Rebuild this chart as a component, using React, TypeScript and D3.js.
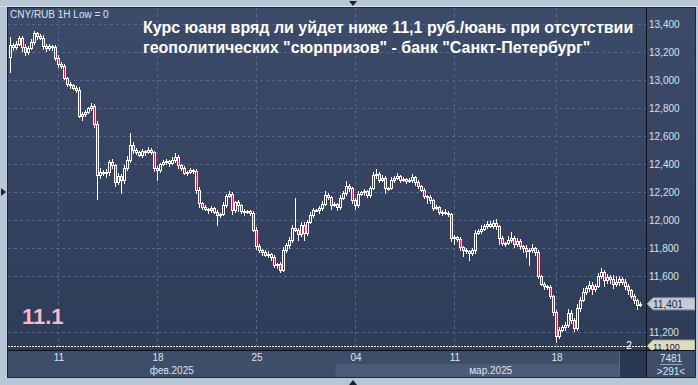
import React from 'react';
import * as d3 from 'd3';

const firstOpen = 13164;
const closes = [
  13250, 13235, 13257, 13300, 13235, 13200, 13229, 13270, 13336, 13315,
  13300, 13243, 13229, 13243, 13235, 13157, 13114, 13100, 13014, 12971,
  12964, 12943, 12929, 12743, 12757, 12771, 12800, 12814, 12686, 12321,
  12343, 12336, 12343, 12414, 12393, 12271, 12314, 12286, 12371, 12429,
  12536, 12500, 12486, 12464, 12493, 12486, 12500, 12486, 12371, 12357,
  12400, 12414, 12421, 12407, 12429, 12450, 12393, 12371, 12336, 12343,
  12357, 12350, 12214, 12121, 12093, 12079, 12071, 12086, 12057, 12036,
  12043, 12107, 12171, 12186, 12071, 12129, 12107, 12064, 12057, 12064,
  12050, 11929, 11814, 11786, 11771, 11750, 11757, 11736, 11679, 11686,
  11643, 11786, 11821, 11857, 11943, 11929, 11900, 11964, 11907, 11986,
  12036, 12071, 12071, 12086, 12114, 12179, 12164, 12107, 12114, 12093,
  12157, 12193, 12243, 12229, 12143, 12107, 12186, 12200, 12207, 12179,
  12229, 12321, 12329, 12286, 12300, 12229, 12229, 12286, 12300, 12314,
  12286, 12293, 12279, 12286, 12307, 12271, 12243, 12214, 12171, 12164,
  12143, 12086, 12093, 12057, 12057, 12050, 12043, 11871, 11879, 11864,
  11807, 11786, 11779, 11764, 11786, 11907, 11921, 11936, 11957, 11971,
  11957, 11979, 11957, 11871, 11836, 11836, 11857, 11871, 11829, 11850,
  11814, 11800, 11779, 11786, 11800, 11771, 11600, 11543, 11529, 11521,
  11457, 11343, 11171, 11214, 11236, 11250, 11336, 11286, 11229, 11371,
  11429, 11486, 11514, 11536, 11507, 11529, 11600, 11629, 11571, 11593,
  11579, 11543, 11557, 11579, 11557, 11529, 11500, 11457, 11429, 11393, 11401,
];
const wickUp = [
  57, 15, 20, 15, 14, 20, 15, 20, 14, 10,
  15, 20, 15, 12, 10, 15, 20, 15, 14, 10,
  15, 10, 14, 20, 15, 12, 10, 20, 15, 20,
  30, 15, 20, 15, 20, 10, 20, 15, 20, 30,
  85, 20, 15, 10, 15, 10, 20, 15, 10, 15,
  10, 15, 15, 10, 20, 30, 15, 10, 15, 10,
  15, 10, 15, 20, 10, 15, 10, 15, 10, 15,
  10, 20, 15, 20, 15, 10, 15, 10, 15, 10,
  10, 15, 20, 15, 10, 15, 25, 10, 15, 10,
  15, 20, 15, 25, 20, 214, 15, 20, 25, 15,
  20, 15, 10, 15, 20, 30, 15, 10, 15, 10,
  20, 15, 35, 15, 10, 15, 20, 10, 15, 10,
  15, 20, 35, 15, 20, 15, 10, 20, 15, 20,
  10, 15, 10, 15, 25, 10, 15, 10, 15, 10,
  15, 10, 15, 10, 15, 20, 15, 10, 15, 10,
  15, 10, 15, 10, 15, 20, 15, 25, 15, 20,
  25, 20, 30, 10, 15, 10, 30, 40, 15, 20,
  15, 10, 20, 15, 25, 10, 15, 10, 15, 10,
  15, 10, 15, 20, 15, 25, 30, 20, 15, 30,
  20, 25, 15, 30, 20, 15, 20, 30, 15, 20,
  15, 25, 40, 20, 15, 20, 15, 10, 15, 10, 15,
];
const wickDown = [
  107, 20, 15, 10, 25, 20, 15, 10, 15, 20,
  10, 25, 20, 15, 20, 15, 20, 15, 10, 15,
  20, 10, 15, 10, 30, 15, 10, 15, 20, 171,
  20, 15, 30, 25, 20, 30, 15, 93, 20, 15,
  15, 20, 15, 10, 15, 20, 10, 15, 20, 71,
  15, 10, 15, 20, 10, 15, 20, 15, 10, 15,
  10, 15, 20, 25, 15, 10, 20, 15, 10, 72,
  15, 10, 15, 10, 25, 15, 40, 15, 20, 10,
  15, 10, 20, 15, 20, 10, 15, 20, 15, 20,
  15, 10, 15, 20, 15, 10, 40, 15, 50, 15,
  10, 15, 10, 20, 15, 10, 15, 25, 10, 20,
  15, 10, 15, 20, 25, 30, 15, 10, 20, 15,
  15, 10, 20, 15, 10, 35, 15, 10, 15, 10,
  15, 10, 15, 10, 15, 20, 15, 10, 15, 40,
  20, 15, 10, 15, 20, 10, 15, 20, 40, 15,
  20, 40, 15, 50, 15, 20, 10, 15, 10, 15,
  10, 15, 20, 40, 15, 20, 10, 15, 20, 15,
  20, 25, 40, 100, 15, 20, 15, 10, 20, 15,
  15, 20, 42, 15, 10, 20, 15, 25, 20, 15,
  20, 10, 15, 20, 35, 15, 10, 15, 40, 20,
  30, 30, 15, 20, 15, 20, 25, 15, 20, 30, 10,
];

const yTicks = [13400, 13200, 13000, 12800, 12600, 12400, 12200, 12000, 11800, 11600, 11200];
const xTickIndex = [16, 49, 82, 115, 148, 182];
const xTickLabels = ['11', '18', '25', '04', '11', '18'];
const monthLabels = ['фев.2025', 'мар.2025'];
const monthStartIndex = [0, 109];
const lastPrice = 11401;
const levelPrice = 11100;
const levelLabel = '11.1';
const titleLines = [
  'Курс юаня вряд ли уйдет ниже 11,1 руб./юань при отсутствии',
  'геополитических "сюрпризов" - банк "Санкт-Петербург"',
];
const headerText = 'CNY/RUB 1H Low = 0';
const countTop = '7481';
const countBottom = '>291<';

const W = 698;
const H = 385;
const L = 8, T = 8, AX = 646, R = 695, B = 350, TB = 377;
const FONT = '"Liberation Sans", Arial, sans-serif';

const fmt = (v: number) => d3.format(',.3f')(v / 1000).replace('.', ',');

export default function App() {
  const N = closes.length;
  const x = d3.scaleLinear().domain([0, N - 1]).range([10, 10 + 3 * (N - 1)]);
  const y = d3.scaleLinear().domain([11100, 13400]).range([346, 24]);

  const candles = closes.map((c, i) => {
    const o = i === 0 ? firstOpen : closes[i - 1];
    const hi = Math.max(o, c) + wickUp[i];
    const lo = Math.min(o, c) - wickDown[i];
    return { o, c, hi, lo, i };
  });

  const monthEdges = monthStartIndex.map((s) => x(s) - 1.5);
  const monthRanges = monthEdges.map((e, k) => [k === 0 ? L : e, k + 1 < monthEdges.length ? monthEdges[k + 1] : AX]);

  const yLast = y(lastPrice);
  const yLevel = y(levelPrice);

  return (
    <svg width={W} height={H} style={{ position: 'absolute', left: 0, top: 0 }} fontFamily={FONT}>
      <defs>
        <linearGradient id="bg" x1="0" y1="0" x2="0" y2="1">
          <stop offset="0" stopColor="#3d4b6a" />
          <stop offset="1" stopColor="#2e3c58" />
        </linearGradient>
        <clipPath id="plotClip">
          <rect x={L} y={T} width={AX - L} height={B - T} />
        </clipPath>
        <clipPath id="axisClip">
          <rect x={AX} y={T} width={R - AX} height={B - T} />
        </clipPath>
      </defs>
      <rect x={0} y={0} width={W} height={H} fill="#b9c6d5" />
      <rect x={0} y={6} width={W} height={1} fill="#dbe3ec" />
      <rect x={L} y={T} width={R - L} height={B - T} fill="url(#bg)" />
      <rect x={L} y={B} width={R - L} height={TB - B} fill="#3e4d68" />

      {/* month band */}
      <rect x={monthRanges[1][0]} y={364} width={monthRanges[1][1] - monthRanges[1][0]} height={TB - 364} fill="#4b5b76" />
      <rect x={619} y={B} width={AX - 619} height={TB - B} fill="#2b3852" />
      <line x1={619.5} y1={B} x2={619.5} y2={TB} stroke="#56657e" />

      {/* grid */}
      <g stroke="#56658a" strokeDasharray="3,3" strokeWidth={1} shapeRendering="crispEdges">
        {yTicks.map((t) => (
          <line key={t} x1={L} x2={AX} y1={Math.round(y(t)) + 0.5} y2={Math.round(y(t)) + 0.5} />
        ))}
        {xTickIndex.map((t) => (
          <line key={t} x1={Math.round(x(t)) + 0.5} x2={Math.round(x(t)) + 0.5} y1={T} y2={B} />
        ))}
      </g>

      {/* header */}
      <text x={10} y={18} fontSize={10} fill="#dbe3ee">{headerText}</text>
      {titleLines.map((t, k) => (
        <text key={k} x={143} y={33 + k * 20} fontSize={16} fontWeight="bold" fill="#ffffff">{t}</text>
      ))}

      {/* level line */}
      <line x1={L} x2={AX} y1={Math.round(yLevel) + 0.5} y2={Math.round(yLevel) + 0.5} stroke="#ffffff" strokeDasharray="2,1" shapeRendering="crispEdges" />
      <text x={22} y={324} fontSize={22} fontWeight="bold" fill="#ffb7c8">{levelLabel}</text>
      <text x={629} y={349} fontSize={10} fill="#ffffff" textAnchor="middle">2</text>

      {/* candles */}
      <g clipPath="url(#plotClip)" shapeRendering="crispEdges">
        {candles.map((d) => {
          const c = Math.round(x(d.i));
          const top = Math.round(y(Math.max(d.o, d.c)));
          let bot = Math.round(y(Math.min(d.o, d.c)));
          if (bot - top < 1) bot = top + 1;
          const yh = Math.round(y(d.hi));
          const yl = Math.round(y(d.lo));
          const bear = d.c < d.o;
          return (
            <g key={d.i}>
              {yh < top && <line x1={c + 0.5} x2={c + 0.5} y1={yh} y2={top} stroke="#ffffff" />}
              {yl > bot && <line x1={c + 0.5} x2={c + 0.5} y1={bot + 1} y2={yl + 1} stroke="#ffffff" />}
              <rect x={c - 0.5} y={top + 0.5} width={2} height={bot - top} fill={bear ? '#e8173e' : 'none'} stroke="#ffffff" strokeWidth={1} />
            </g>
          );
        })}
      </g>

      {/* separators */}
      <line x1={AX + 0.5} x2={AX + 0.5} y1={T} y2={TB} stroke="#0e131c" />
      <line x1={L} x2={R} y1={B + 0.5} y2={B + 0.5} stroke="#0e131c" />
      <rect x={L - 0.5} y={T - 0.5} width={R - L + 1} height={TB - T + 1} fill="none" stroke="#1e2838" />

      {/* y axis labels */}
      {yTicks.map((t) => (
        <text key={t} x={649} y={Math.round(y(t)) + 4} fontSize={10} fill="#d8e0ec">{fmt(t)}</text>
      ))}

      {/* price tags */}
      <g clipPath="url(#axisClip)">
        <polygon points={`${AX + 1},${yLast} ${AX + 7},${yLast - 6} ${R},${yLast - 6} ${R},${yLast + 6} ${AX + 7},${yLast + 6}`} fill="#c4ccd6" stroke="#8f9aaa" />
        <text x={653} y={yLast + 4} fontSize={10} fill="#1b2130">{fmt(lastPrice)}</text>
        <polygon points={`${AX + 1},${yLevel} ${AX + 7},${yLevel - 6} ${R},${yLevel - 6} ${R},${yLevel + 6} ${AX + 7},${yLevel + 6}`} fill="#dcdcc0" stroke="#9a9a88" />
        <text x={653} y={yLevel + 4} fontSize={9} fill="#1b2130">{fmt(levelPrice)}</text>
      </g>

      {/* x axis labels */}
      {xTickIndex.map((t, k) => (
        <text key={t} x={x(t) + 1} y={361} fontSize={10} fill="#dbe3ee" textAnchor="middle">{xTickLabels[k]}</text>
      ))}
      {monthLabels.map((m, k) => (
        <text key={m} x={(monthRanges[k][0] + monthRanges[k][1]) / 2} y={374} fontSize={10} fill="#dbe3ee" textAnchor="middle">{m}</text>
      ))}

      {/* count box */}
      <text x={671} y={362} fontSize={10} fill="#dbe3ee" textAnchor="middle">{countTop}</text>
      <line x1={660} x2={682} y1={364.5} y2={364.5} stroke="#9aa6b8" />
      <text x={671} y={375} fontSize={10} fill="#dbe3ee" textAnchor="middle">{countBottom}</text>

      {/* markers */}
      <polygon points="349,1 357,1 353,6" fill="#1a2232" />
      <polygon points="1,188 1,196 6,192" fill="#1a2232" />
      <polygon points="349,385 357,385 353,380" fill="#1a2232" />
    </svg>
  );
}
